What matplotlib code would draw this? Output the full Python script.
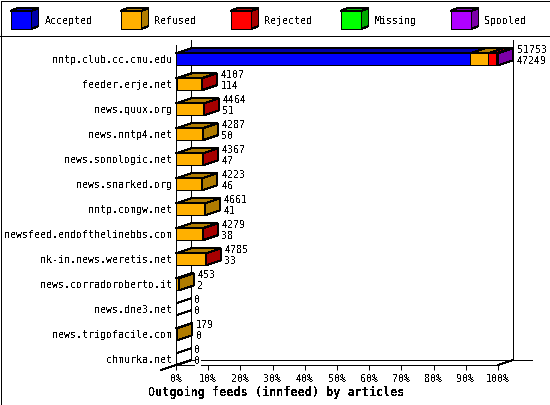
import matplotlib
matplotlib.use('Agg')
import matplotlib.pyplot as plt

# Data
hosts = ['nntp.club.cc.cmu.edu', 'feeder.erje.net', 'news.quux.org', 'news.nntp4.net',
         'news.sonologic.net', 'news.snarked.org', 'nntp.comgw.net',
         'newsfeed.endofthelinebbs.com', 'nk-in.news.weretis.net',
         'news.corradoroberto.it', 'news.dne3.net', 'news.trigofacile.com', 'chmurka.net']
offered = [51753, 4107, 4464, 4287, 4367, 4223, 4661, 4279, 4785, 453, 0, 179, 0]
accepted = [47249, 114, 51, 50, 47, 46, 41, 38, 33, 2, 0, 0, 0]
refused = [2950, 3990, 4400, 4237, 4315, 4177, 4620, 4238, 4750, 451, 0, 179, 0]
rejected = [1300, 3, 13, 0, 5, 0, 0, 3, 2, 0, 0, 0, 0]
missing = [0, 0, 0, 0, 0, 0, 0, 0, 0, 0, 0, 0, 0]
spooled = [254, 0, 0, 0, 0, 0, 0, 0, 0, 0, 0, 0, 0]
legend_names = ['Accepted', 'Refused', 'Rejected', 'Missing', 'Spooled']
pct_ticks = [0, 10, 20, 30, 40, 50, 60, 70, 80, 90, 100]

# front colour, darker colour for the side and top faces
colors = ['#0000ff', '#ffb000', '#ff0000', '#00ff00', '#b000ff']
darks = ['#0000a8', '#b07c00', '#a80000', '#00a800', '#7c00a8']

plt.rcParams['font.family'] = 'DejaVu Sans Mono'
plt.rcParams['text.antialiased'] = False
plt.rcParams['lines.antialiased'] = False
plt.rcParams['patch.antialiased'] = False
plt.rcParams['axes.linewidth'] = 0.72

W, H = 550, 405
LW = 0.72  # one pixel
fig = plt.figure(figsize=(W / 100, H / 100), dpi=100)

# full size axes in pixels for the frame and legend
bg = fig.add_axes([0, 0, 1, 1])
bg.set_xlim(0, W)
bg.set_ylim(H, 0)
bg.axis('off')
bg.plot([0.5, W - 0.5, W - 0.5, 0.5, 0.5], [0.5, 0.5, H - 0.5, H - 0.5, 0.5], color='k', lw=LW)
bg.plot([0, W], [35.5, 35.5], color='k', lw=LW)
for i, name in enumerate(legend_names):
    x0 = 10.5 + 110 * i
    bg.fill([x0, x0 + 21, x0 + 21, x0], [11, 11, 29, 29], fc=colors[i], ec='k', lw=LW)
    bg.fill([x0, x0 + 7, x0 + 28, x0 + 21], [11, 8, 8, 11], fc=darks[i], ec='k', lw=LW)
    bg.fill([x0 + 21, x0 + 28, x0 + 28, x0 + 21], [11, 8, 26, 29], fc=darks[i], ec='k', lw=LW)
    bg.text(x0 + 34, 20.5, name, fontsize=7.2, va='center', ha='left')

# plot area: front plane from x=176 to 498, y=45 to 365
ax = fig.add_axes([176 / W, (H - 365) / H, 322 / W, 320 / H])
ax.patch.set_alpha(0)
ax.set_xlim(0, 100)
ax.set_ylim(12.228, -0.572)
ax.spines['top'].set_visible(False)
ax.spines['right'].set_visible(False)
ax.set_xticks(pct_ticks, [f'{p}%' for p in pct_ticks], fontsize=7.2)
ax.set_yticks(range(len(hosts)), hosts, fontsize=7.2)
ax.tick_params(axis='x', length=3.6, width=LW, pad=3)
ax.tick_params(axis='y', length=0, pad=3)

dx = 15 / 3.22  # depth in percent units
dy = 0.2  # depth in rows
half = 0.24
y0, y1 = ax.get_ylim()

# back walls and floor
ax.plot([dx, dx], [y0 - dy, y1 - dy], color='k', lw=LW, clip_on=False, zorder=1)
ax.plot([100 + dx, 100 + dx], [y0 - dy, y1 - dy], color='k', lw=LW, clip_on=False, zorder=1)
ax.plot([dx, 110.6], [y0 - dy, y0 - dy], color='k', lw=LW, clip_on=False, zorder=1)
ax.plot([-dx, dx], [y0 + dy, y0 - dy], color='k', lw=LW, clip_on=False, zorder=1)
ax.plot([100, 100 + dx], [y0, y0 - dy], color='k', lw=LW, clip_on=False, zorder=1)

top = max(offered)
for r in range(len(hosts)):
    a, b = r - half, r + half
    values = [accepted[r], refused[r], rejected[r], missing[r], spooled[r]]
    left = 0
    last = None
    for i, v in enumerate(values):
        if v == 0:
            continue
        w = v / top * 100
        ax.fill([left, left + w, left + w, left], [a, a, b, b], fc=colors[i], ec='k', lw=LW,
                clip_on=False, zorder=3)
        ax.fill([left, left + dx, left + w + dx, left + w], [a, a - dy, a - dy, a], fc=darks[i],
                ec='k', lw=LW, clip_on=False, zorder=3)
        left += w
        last = i
    if last is None:
        ax.plot([0, dx], [a, a - dy], color='k', lw=LW, zorder=2)
        ax.plot([0, dx], [b, b - dy], color='k', lw=LW, zorder=2)
    else:
        ax.fill([left, left + dx, left + dx, left], [a, a - dy, b - dy, b], fc=darks[last],
                ec='k', lw=LW, clip_on=False, zorder=3)
    tx = left + dx + 1.2
    ax.text(tx, r - 0.36, str(offered[r]), fontsize=7.2, va='center', ha='left', clip_on=False,
            zorder=4, bbox=dict(fc='white', ec='none', pad=0))
    ax.text(tx, r + 0.08, str(accepted[r]), fontsize=7.2, va='center', ha='left', clip_on=False,
            zorder=4, bbox=dict(fc='white', ec='none', pad=0))

bg.text(276, 392, 'Outgoing feeds (innfeed) by articles', fontsize=8.5, weight='bold',
        va='center', ha='center')

fig.savefig('out.png', dpi=100)
